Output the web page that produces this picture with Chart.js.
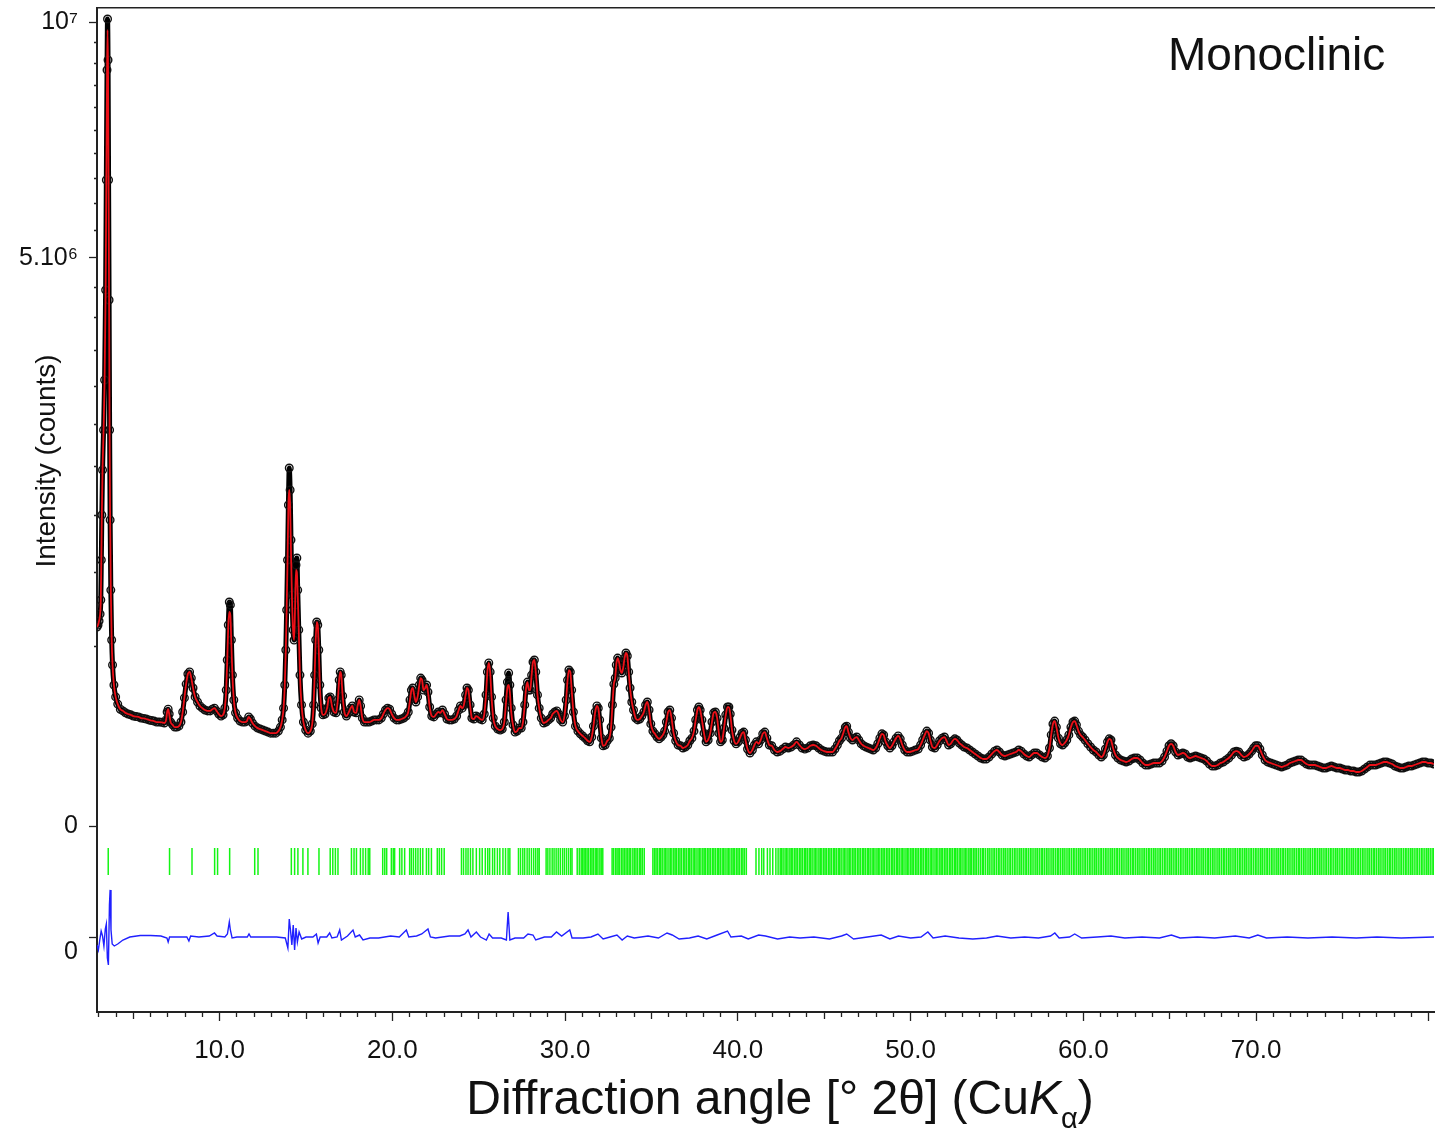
<!DOCTYPE html>
<html>
<head>
<meta charset="utf-8">
<title>Monoclinic refinement</title>
<script src="https://cdn.jsdelivr.net/npm/chart.js@4.4.1/dist/chart.umd.min.js"></script>
<style>
  body { margin: 0; background: #fff; }
  #wrap { width: 1444px; height: 1134px; }
</style>
</head>
<body>
<div id="wrap"><canvas id="xrd" width="1444" height="1134"></canvas></div>
<script>
// 2theta grid of the profile (deg)
const angles = [
  2.90, 2.96, 3.02, 3.08, 3.12, 3.15, 3.18, 3.22, 3.28, 3.34,
  3.40, 3.44, 3.48, 3.51, 3.54, 3.57, 3.60, 3.63, 3.66, 3.70,
  3.75, 3.80, 3.88, 3.98, 4.10, 4.25, 4.40, 4.55, 4.70, 4.85,
  5.00, 5.15, 5.30, 5.45, 5.60, 5.75, 5.90, 6.05, 6.20, 6.35,
  6.50, 6.65, 6.80, 6.90, 6.96, 7.02, 7.08, 7.16, 7.28, 7.40,
  7.52, 7.64, 7.76, 7.86, 7.96, 8.06, 8.16, 8.26, 8.36, 8.46,
  8.58, 8.72, 8.86, 9.00, 9.15, 9.30, 9.45, 9.58, 9.70, 9.82,
  9.95, 10.08, 10.20, 10.30, 10.38, 10.44, 10.50, 10.56, 10.62, 10.68,
  10.74, 10.82, 10.92, 11.04, 11.18, 11.32, 11.46, 11.58, 11.68, 11.78,
  11.90, 12.05, 12.20, 12.35, 12.50, 12.65, 12.80, 12.95, 13.10, 13.25,
  13.40, 13.52, 13.62, 13.70, 13.77, 13.83, 13.88, 13.93, 13.98, 14.03,
  14.08, 14.13, 14.19, 14.25, 14.31, 14.37, 14.42, 14.47, 14.52, 14.58,
  14.65, 14.74, 14.85, 14.98, 15.12, 15.25, 15.36, 15.44, 15.50, 15.56,
  15.62, 15.68, 15.74, 15.80, 15.88, 15.98, 16.10, 16.22, 16.32, 16.40,
  16.50, 16.62, 16.74, 16.84, 16.92, 16.98, 17.04, 17.12, 17.22, 17.34,
  17.46, 17.58, 17.68, 17.78, 17.90, 18.00, 18.08, 18.16, 18.26, 18.38,
  18.52, 18.66, 18.80, 18.94, 19.08, 19.22, 19.36, 19.48, 19.60, 19.72,
  19.84, 19.96, 20.10, 20.24, 20.38, 20.52, 20.66, 20.80, 20.92, 21.02,
  21.10, 21.18, 21.26, 21.36, 21.46, 21.56, 21.64, 21.72, 21.80, 21.90,
  21.98, 22.06, 22.16, 22.28, 22.40, 22.54, 22.66, 22.78, 22.90, 23.02,
  23.16, 23.30, 23.44, 23.58, 23.72, 23.84, 23.94, 24.04, 24.14, 24.24,
  24.32, 24.40, 24.50, 24.60, 24.72, 24.84, 24.96, 25.08, 25.20, 25.32,
  25.42, 25.50, 25.58, 25.66, 25.74, 25.84, 25.96, 26.10, 26.24, 26.36,
  26.48, 26.58, 26.66, 26.73, 26.80, 26.88, 26.98, 27.10, 27.22, 27.34,
  27.46, 27.56, 27.66, 27.74, 27.82, 27.90, 27.98, 28.06, 28.14, 28.22,
  28.30, 28.40, 28.50, 28.62, 28.76, 28.90, 29.04, 29.16, 29.28, 29.40,
  29.52, 29.62, 29.74, 29.86, 29.96, 30.06, 30.14, 30.22, 30.30, 30.38,
  30.48, 30.60, 30.74, 30.88, 31.02, 31.16, 31.30, 31.42, 31.54, 31.64,
  31.74, 31.84, 31.92, 32.00, 32.10, 32.20, 32.32, 32.44, 32.56, 32.66,
  32.74, 32.82, 32.90, 32.96, 33.04, 33.12, 33.20, 33.28, 33.36, 33.44,
  33.52, 33.60, 33.68, 33.76, 33.86, 33.96, 34.08, 34.20, 34.32, 34.44,
  34.56, 34.66, 34.76, 34.86, 34.96, 35.08, 35.20, 35.32, 35.44, 35.56,
  35.66, 35.76, 35.86, 35.96, 36.06, 36.16, 36.28, 36.40, 36.54, 36.68,
  36.82, 36.96, 37.10, 37.22, 37.34, 37.46, 37.56, 37.66, 37.74, 37.82,
  37.92, 38.04, 38.16, 38.28, 38.40, 38.50, 38.60, 38.70, 38.80, 38.90,
  39.00, 39.10, 39.20, 39.30, 39.40, 39.48, 39.56, 39.66, 39.78, 39.90,
  40.02, 40.14, 40.24, 40.34, 40.44, 40.56, 40.70, 40.84, 40.96, 41.08,
  41.20, 41.32, 41.44, 41.56, 41.68, 41.82, 41.96, 42.12, 42.28, 42.44,
  42.60, 42.76, 42.92, 43.08, 43.24, 43.40, 43.56, 43.72, 43.88, 44.04,
  44.20, 44.36, 44.52, 44.68, 44.84, 45.00, 45.16, 45.32, 45.48, 45.62,
  45.76, 45.88, 46.00, 46.12, 46.22, 46.30, 46.40, 46.52, 46.64, 46.76,
  46.88, 47.00, 47.14, 47.28, 47.42, 47.56, 47.70, 47.84, 47.98, 48.10,
  48.22, 48.34, 48.44, 48.56, 48.68, 48.80, 48.92, 49.04, 49.16, 49.28,
  49.40, 49.52, 49.66, 49.80, 49.96, 50.12, 50.28, 50.44, 50.58, 50.70,
  50.82, 50.94, 51.04, 51.14, 51.26, 51.40, 51.54, 51.68, 51.82, 51.96,
  52.08, 52.20, 52.32, 52.44, 52.56, 52.68, 52.82, 52.96, 53.10, 53.26,
  53.42, 53.58, 53.74, 53.90, 54.06, 54.22, 54.38, 54.54, 54.70, 54.86,
  55.00, 55.14, 55.30, 55.46, 55.62, 55.78, 55.94, 56.10, 56.26, 56.40,
  56.56, 56.72, 56.86, 57.00, 57.16, 57.30, 57.46, 57.62, 57.78, 57.92,
  58.04, 58.14, 58.24, 58.34, 58.44, 58.56, 58.68, 58.80, 58.92, 59.04,
  59.16, 59.28, 59.40, 59.50, 59.60, 59.72, 59.84, 59.96, 60.10, 60.26,
  60.42, 60.58, 60.74, 60.90, 61.04, 61.16, 61.28, 61.40, 61.50, 61.60,
  61.72, 61.86, 62.00, 62.16, 62.32, 62.48, 62.64, 62.80, 62.96, 63.12,
  63.28, 63.44, 63.60, 63.76, 63.92, 64.08, 64.24, 64.40, 64.56, 64.70,
  64.84, 64.96, 65.08, 65.20, 65.34, 65.48, 65.62, 65.76, 65.90, 66.04,
  66.18, 66.34, 66.50, 66.66, 66.82, 66.98, 67.14, 67.30, 67.46, 67.62,
  67.78, 67.94, 68.10, 68.26, 68.42, 68.58, 68.72, 68.86, 69.00, 69.14,
  69.30, 69.46, 69.60, 69.74, 69.86, 69.98, 70.10, 70.22, 70.36, 70.52,
  70.68, 70.84, 71.00, 71.16, 71.32, 71.48, 71.64, 71.80, 71.96, 72.12,
  72.28, 72.44, 72.60, 72.76, 72.92, 73.08, 73.24, 73.40, 73.56, 73.72,
  73.88, 74.04, 74.20, 74.36, 74.52, 74.68, 74.84, 75.00, 75.16, 75.32,
  75.48, 75.64, 75.80, 75.96, 76.12, 76.28, 76.44, 76.60, 76.76, 76.92,
  77.08, 77.24, 77.40, 77.56, 77.72, 77.88, 78.04, 78.20, 78.36, 78.52,
  78.68, 78.84, 79.00, 79.16, 79.32, 79.48, 79.64, 79.80, 79.96, 80.12,
  80.28
];

// observed counts
const observed = [
  616000, 628000, 654000, 699000, 794000, 1099000, 1501000, 1966000, 2432000, 3084000,
  4452000, 6464000, 8850000, 10083000, 9086000, 6464000, 4287000, 2432000, 1453000, 865000,
  538000, 404000, 310000, 260000, 232000, 213000, 207000, 200000, 196000, 193000,
  189000, 187000, 186000, 182000, 181000, 179000, 176000, 174000, 172000, 169000,
  169000, 168000, 166000, 176000, 203000, 213000, 196000, 169000, 160000, 153000,
  153000, 156000, 169000, 203000, 256000, 314000, 360000, 370000, 341000, 297000,
  260000, 240000, 225000, 217000, 210000, 207000, 207000, 213000, 217000, 207000,
  196000, 189000, 193000, 217000, 288000, 429000, 628000, 780000, 760000, 538000,
  355000, 248000, 200000, 182000, 172000, 169000, 169000, 172000, 186000, 179000,
  166000, 156000, 150000, 147000, 144000, 141000, 138000, 135000, 135000, 135000,
  141000, 153000, 176000, 217000, 310000, 482000, 725000, 1099000, 1599000, 1988000,
  1752000, 1270000, 829000, 598000, 538000, 759000, 1058000, 1115000, 865000, 598000,
  355000, 229000, 169000, 144000, 135000, 141000, 163000, 229000, 355000, 538000,
  647000, 628000, 482000, 310000, 217000, 193000, 196000, 217000, 256000, 260000,
  225000, 203000, 200000, 248000, 332000, 370000, 355000, 264000, 203000, 189000,
  200000, 217000, 225000, 203000, 200000, 229000, 248000, 225000, 182000, 169000,
  169000, 169000, 172000, 176000, 176000, 176000, 182000, 196000, 210000, 217000,
  213000, 196000, 182000, 176000, 176000, 179000, 182000, 189000, 203000, 248000,
  288000, 297000, 268000, 240000, 260000, 310000, 341000, 332000, 288000, 297000,
  310000, 280000, 221000, 189000, 186000, 196000, 203000, 200000, 210000, 196000,
  179000, 176000, 176000, 179000, 189000, 210000, 225000, 217000, 229000, 268000,
  297000, 288000, 229000, 182000, 179000, 189000, 186000, 179000, 176000, 196000,
  268000, 370000, 414000, 370000, 260000, 182000, 156000, 147000, 144000, 147000,
  169000, 248000, 323000, 365000, 310000, 217000, 160000, 138000, 141000, 150000,
  150000, 169000, 229000, 297000, 323000, 288000, 288000, 355000, 419000, 429000,
  370000, 268000, 217000, 182000, 166000, 169000, 176000, 182000, 196000, 203000,
  207000, 196000, 176000, 169000, 189000, 248000, 332000, 379000, 370000, 288000,
  203000, 156000, 141000, 133000, 127000, 121000, 114000, 111000, 124000, 156000,
  203000, 225000, 217000, 176000, 121000, 101000, 103000, 114000, 121000, 153000,
  229000, 314000, 341000, 404000, 439000, 419000, 379000, 365000, 389000, 439000,
  466000, 450000, 370000, 297000, 240000, 210000, 182000, 176000, 179000, 189000,
  203000, 229000, 240000, 210000, 163000, 141000, 133000, 124000, 119000, 124000,
  130000, 141000, 169000, 203000, 210000, 182000, 135000, 114000, 103000, 101000,
  95500, 98000, 103000, 114000, 121000, 141000, 176000, 210000, 221000, 210000,
  176000, 135000, 111000, 116000, 135000, 169000, 200000, 203000, 182000, 135000,
  111000, 116000, 150000, 193000, 221000, 221000, 196000, 144000, 114000, 106000,
  111000, 124000, 135000, 138000, 116000, 93000, 83700, 90700, 103000, 111000,
  106000, 116000, 133000, 138000, 121000, 103000, 101000, 90700, 86000, 88000,
  93000, 98000, 95500, 98000, 103000, 111000, 103000, 95500, 93000, 95500,
  101000, 103000, 101000, 95500, 90700, 88000, 86000, 86000, 86000, 93000,
  103000, 114000, 121000, 138000, 153000, 156000, 138000, 121000, 116000, 121000,
  124000, 116000, 106000, 101000, 98000, 95500, 93000, 90700, 95500, 106000,
  121000, 133000, 130000, 111000, 101000, 95500, 101000, 111000, 121000, 127000,
  119000, 103000, 90700, 86000, 86000, 88000, 90700, 93000, 103000, 116000,
  130000, 141000, 135000, 116000, 98000, 95500, 103000, 114000, 121000, 124000,
  114000, 103000, 106000, 114000, 119000, 116000, 108000, 103000, 98000, 95500,
  90700, 86000, 81500, 77100, 72800, 70700, 70700, 74900, 81500, 88000,
  90700, 86000, 79300, 77100, 79300, 81500, 83700, 86000, 90700, 88000,
  81500, 77100, 74900, 79300, 83700, 83700, 79300, 74900, 72800, 77100,
  95500, 130000, 163000, 172000, 153000, 121000, 106000, 103000, 108000, 116000,
  130000, 153000, 169000, 172000, 160000, 141000, 130000, 124000, 116000, 106000,
  98000, 90700, 86000, 79300, 74900, 79300, 93000, 111000, 119000, 116000,
  95500, 79300, 72800, 68600, 66500, 64500, 66500, 70700, 72800, 72800,
  68600, 62500, 58700, 58700, 60600, 62500, 62500, 62500, 66500, 74900,
  88000, 101000, 106000, 101000, 86000, 79300, 81500, 83700, 81500, 74900,
  72800, 74900, 77100, 74900, 72800, 70700, 66500, 60600, 56800, 56800,
  58700, 62500, 64500, 68600, 72800, 79300, 86000, 88000, 86000, 79300,
  74900, 77100, 81500, 88000, 95500, 101000, 101000, 93000, 79300, 68600,
  64500, 62500, 60600, 58700, 56800, 54900, 56800, 58700, 62500, 64500,
  66500, 68600, 68600, 64500, 60600, 58700, 58700, 58700, 56800, 54900,
  53100, 53100, 54900, 56800, 54900, 53100, 53100, 51300, 49500, 49500,
  47800, 47800, 46100, 46100, 47800, 51300, 54900, 58700, 58700, 58700,
  60600, 62500, 64500, 64500, 62500, 60600, 56800, 54900, 53100, 53100,
  54900, 56800, 56800, 58700, 60600, 62500, 64500, 64500, 62500, 62500,
  60600
];

// calculated profile
const calculated = [
  616000, 628000, 654000, 699000, 794000, 1099000, 1501000, 1966000, 2432000, 3084000,
  4452000, 6464000, 8618000, 9811000, 8803000, 6300000, 4287000, 2432000, 1453000, 865000,
  538000, 404000, 310000, 260000, 232000, 213000, 207000, 200000, 196000, 193000,
  189000, 187000, 186000, 182000, 181000, 179000, 176000, 174000, 172000, 169000,
  169000, 168000, 166000, 176000, 203000, 213000, 196000, 169000, 160000, 153000,
  153000, 156000, 169000, 203000, 256000, 314000, 360000, 370000, 341000, 297000,
  260000, 240000, 225000, 217000, 210000, 207000, 207000, 213000, 217000, 207000,
  196000, 189000, 193000, 217000, 288000, 429000, 628000, 712000, 692000, 510000,
  355000, 248000, 200000, 182000, 172000, 169000, 169000, 172000, 186000, 179000,
  166000, 156000, 150000, 147000, 144000, 141000, 138000, 135000, 135000, 135000,
  141000, 153000, 176000, 217000, 310000, 482000, 725000, 1099000, 1599000, 1752000,
  1599000, 1183000, 794000, 598000, 538000, 759000, 1018000, 1002000, 830000, 598000,
  355000, 229000, 169000, 144000, 135000, 141000, 163000, 229000, 355000, 538000,
  647000, 628000, 482000, 310000, 217000, 193000, 196000, 217000, 256000, 260000,
  225000, 203000, 200000, 248000, 332000, 370000, 355000, 264000, 203000, 189000,
  200000, 217000, 225000, 203000, 200000, 229000, 248000, 225000, 182000, 169000,
  169000, 169000, 172000, 176000, 176000, 176000, 182000, 196000, 210000, 217000,
  213000, 196000, 182000, 176000, 176000, 179000, 182000, 189000, 203000, 248000,
  288000, 297000, 268000, 240000, 260000, 310000, 341000, 332000, 288000, 297000,
  310000, 280000, 221000, 189000, 186000, 196000, 203000, 200000, 210000, 196000,
  179000, 176000, 176000, 179000, 189000, 210000, 225000, 217000, 229000, 268000,
  297000, 288000, 229000, 182000, 179000, 189000, 186000, 179000, 176000, 196000,
  268000, 370000, 414000, 370000, 260000, 182000, 156000, 147000, 144000, 147000,
  169000, 240000, 300000, 310000, 280000, 203000, 160000, 138000, 141000, 150000,
  150000, 169000, 229000, 297000, 323000, 288000, 288000, 355000, 419000, 429000,
  370000, 268000, 217000, 182000, 166000, 169000, 176000, 182000, 196000, 203000,
  207000, 196000, 176000, 169000, 189000, 248000, 332000, 379000, 370000, 288000,
  203000, 156000, 141000, 133000, 127000, 121000, 114000, 111000, 124000, 156000,
  203000, 225000, 217000, 176000, 121000, 101000, 103000, 114000, 121000, 153000,
  229000, 314000, 341000, 404000, 439000, 419000, 379000, 365000, 389000, 439000,
  466000, 450000, 370000, 297000, 240000, 210000, 182000, 176000, 179000, 189000,
  203000, 229000, 240000, 210000, 163000, 141000, 133000, 124000, 119000, 124000,
  130000, 141000, 169000, 203000, 210000, 182000, 135000, 114000, 103000, 101000,
  95500, 98000, 103000, 114000, 121000, 141000, 176000, 210000, 221000, 210000,
  176000, 135000, 111000, 116000, 135000, 169000, 200000, 203000, 182000, 135000,
  111000, 116000, 150000, 193000, 221000, 221000, 196000, 144000, 114000, 106000,
  111000, 124000, 135000, 138000, 116000, 93000, 83700, 90700, 103000, 111000,
  106000, 116000, 133000, 138000, 121000, 103000, 101000, 90700, 86000, 88000,
  93000, 98000, 95500, 98000, 103000, 111000, 103000, 95500, 93000, 95500,
  101000, 103000, 101000, 95500, 90700, 88000, 86000, 86000, 86000, 93000,
  103000, 114000, 121000, 138000, 153000, 156000, 138000, 121000, 116000, 121000,
  124000, 116000, 106000, 101000, 98000, 95500, 93000, 90700, 95500, 106000,
  121000, 133000, 130000, 111000, 101000, 95500, 101000, 111000, 121000, 127000,
  119000, 103000, 90700, 86000, 86000, 88000, 90700, 93000, 103000, 116000,
  130000, 141000, 135000, 116000, 98000, 95500, 103000, 114000, 121000, 124000,
  114000, 103000, 106000, 114000, 119000, 116000, 108000, 103000, 98000, 95500,
  90700, 86000, 81500, 77100, 72800, 70700, 70700, 74900, 81500, 88000,
  90700, 86000, 79300, 77100, 79300, 81500, 83700, 86000, 90700, 88000,
  81500, 77100, 74900, 79300, 83700, 83700, 79300, 74900, 72800, 77100,
  95500, 130000, 163000, 172000, 153000, 121000, 106000, 103000, 108000, 116000,
  130000, 153000, 169000, 172000, 160000, 141000, 130000, 124000, 116000, 106000,
  98000, 90700, 86000, 79300, 74900, 79300, 93000, 111000, 119000, 116000,
  95500, 79300, 72800, 68600, 66500, 64500, 66500, 70700, 72800, 72800,
  68600, 62500, 58700, 58700, 60600, 62500, 62500, 62500, 66500, 74900,
  88000, 101000, 106000, 101000, 86000, 79300, 81500, 83700, 81500, 74900,
  72800, 74900, 77100, 74900, 72800, 70700, 66500, 60600, 56800, 56800,
  58700, 62500, 64500, 68600, 72800, 79300, 86000, 88000, 86000, 79300,
  74900, 77100, 81500, 88000, 95500, 101000, 101000, 93000, 79300, 68600,
  64500, 62500, 60600, 58700, 56800, 54900, 56800, 58700, 62500, 64500,
  66500, 68600, 68600, 64500, 60600, 58700, 58700, 58700, 56800, 54900,
  53100, 53100, 54900, 56800, 54900, 53100, 53100, 51300, 49500, 49500,
  47800, 47800, 46100, 46100, 47800, 51300, 54900, 58700, 58700, 58700,
  60600, 62500, 64500, 64500, 62500, 60600, 56800, 54900, 53100, 53100,
  54900, 56800, 56800, 58700, 60600, 62500, 64500, 64500, 62500, 62500,
  60600
];

// difference curve (obs - calc), own grid
const diffAngles = [
  2.90, 2.98, 3.06, 3.14, 3.22, 3.30, 3.38, 3.44, 3.50, 3.56,
  3.62, 3.66, 3.71, 3.78, 3.90, 4.10, 4.40, 4.80, 5.40, 6.00,
  6.60, 6.95, 7.02, 7.10, 7.60, 8.10, 8.22, 8.32, 8.80, 9.40,
  9.70, 9.85, 10.30, 10.45, 10.56, 10.62, 10.72, 11.00, 11.60, 11.70,
  11.80, 12.50, 13.30, 13.80, 13.95, 14.03, 14.10, 14.18, 14.26, 14.34,
  14.42, 14.50, 14.60, 14.75, 15.00, 15.40, 15.60, 15.70, 15.82, 16.20,
  16.37, 16.50, 16.80, 16.95, 17.05, 17.40, 17.72, 17.85, 18.10, 18.30,
  18.70, 19.20, 19.90, 20.40, 20.81, 20.95, 21.40, 21.70, 22.06, 22.20,
  22.50, 23.30, 23.90, 24.20, 24.38, 24.55, 24.86, 25.10, 25.44, 25.60,
  25.80, 26.30, 26.60, 26.70, 26.80, 27.10, 27.60, 27.85, 28.14, 28.30,
  28.80, 29.20, 29.50, 29.80, 30.27, 30.40, 31.04, 31.50, 31.90, 32.20,
  32.60, 33.00, 33.30, 33.60, 34.00, 34.80, 35.40, 35.90, 36.20, 36.60,
  37.20, 37.70, 38.20, 38.80, 39.40, 39.60, 40.20, 40.60, 41.20, 41.60,
  42.30, 43.00, 43.60, 44.40, 45.30, 46.00, 46.30, 46.70, 47.50, 48.30,
  48.80, 49.30, 50.00, 50.60, 51.00, 51.30, 52.00, 52.80, 53.60, 54.40,
  55.00, 55.80, 56.60, 57.40, 58.10, 58.35, 58.60, 59.20, 59.50, 59.90,
  60.80, 61.60, 62.40, 63.40, 64.40, 65.10, 65.60, 66.60, 67.60, 68.80,
  69.60, 70.10, 70.60, 71.80, 73.00, 74.40, 75.80, 77.00, 78.40, 80.30
];
const difference = [
  -73000, -123000, -23000, 67000, 17000, -83000, 87000, 137000, -203000, -273000,
  328000, 478000, 78000, -63000, -83000, -63000, -23000, 7000, 22000, 22000,
  17000, -3000, -43000, 7000, 7000, 7000, -33000, 17000, 7000, 17000,
  47000, 17000, 7000, 37000, 157000, 77000, -3000, 7000, 7000, 37000,
  7000, 7000, 7000, -3000, -103000, 187000, 77000, -73000, 127000, -123000,
  97000, -43000, 57000, -13000, 7000, 7000, 37000, -53000, 7000, 7000,
  47000, -3000, 7000, 77000, -23000, 17000, 77000, 7000, 27000, -23000,
  -3000, -3000, 17000, 7000, 77000, 7000, 17000, 37000, 87000, 7000,
  -3000, 17000, 17000, 37000, 77000, 7000, 57000, 7000, -23000, 37000,
  -3000, -3000, -23000, 257000, -23000, -3000, -3000, 37000, 27000, -23000,
  7000, 7000, 57000, 17000, 77000, -3000, -3000, 7000, 37000, -13000,
  7000, 27000, -23000, 17000, -3000, 17000, -3000, 47000, 27000, -13000,
  -3000, 17000, -13000, 27000, 67000, 7000, 17000, -13000, 27000, 17000,
  -13000, 7000, -3000, 7000, -13000, 17000, 37000, -13000, 7000, 27000,
  -13000, 17000, -3000, 7000, 57000, -3000, 17000, -3000, -13000, -3000,
  17000, -3000, 7000, -3000, 17000, 47000, -3000, 7000, 37000, -3000,
  7000, 17000, -3000, 7000, -3000, 27000, -3000, 7000, -3000, 17000,
  -3000, 27000, -3000, 7000, -3000, 7000, -3000, 7000, -3000, 7000
];

// Bragg reflection positions (deg)
const reflections = [
  3.55, 7.10, 8.40, 9.71, 9.88, 10.58, 12.03, 12.22, 14.15, 14.34, 14.53, 14.82, 15.11, 15.75,
  16.40, 16.55, 16.70, 16.85, 17.63, 17.78, 17.92, 18.15, 18.30, 18.45, 18.60, 18.69,
  19.44, 19.56, 19.67, 19.94, 20.05, 20.13, 20.42, 20.55, 20.71,
  21.00, 21.10, 21.22, 21.35, 21.48, 21.62, 21.76, 21.97, 22.10, 22.26,
  22.60, 22.72, 22.85, 23.00, 24.00, 24.12, 24.26, 24.38, 24.52, 24.66, 24.86,
  25.05, 25.20, 25.38, 25.52, 25.63, 25.80, 25.92, 26.08, 26.22, 26.40, 26.55, 26.70, 26.80,
  27.30, 27.42, 27.55, 27.66, 27.80, 27.92, 28.05, 28.18, 28.30, 28.42, 28.50,
  28.90, 29.00, 29.12, 29.25, 29.36, 29.48, 29.60, 29.72, 29.85, 29.96, 30.08, 30.20, 30.32, 30.40,
  30.70, 30.82, 30.93, 31.02, 31.10, 31.18, 31.27, 31.35, 31.46, 31.55, 31.63, 31.74, 31.82, 31.90,
  32.01, 32.09, 32.18, 32.72, 32.80, 32.91, 33.00, 33.07, 33.16, 33.27, 33.35, 33.44, 33.53, 33.62,
  33.71, 33.80, 33.92, 34.01, 34.10, 34.19, 34.30, 34.38, 34.47, 34.58,
  35.08, 35.17, 35.26, 35.34, 35.45, 35.53, 35.62, 35.73, 35.81, 35.90, 36.01, 36.10, 36.18, 36.29,
  36.37, 36.46, 36.57, 36.65, 36.74, 36.85, 36.93, 37.02, 37.13, 37.21, 37.30, 37.41, 37.49, 37.58,
  37.69, 37.77, 37.86, 37.97, 38.05, 38.14, 38.25, 38.33, 38.42, 38.53, 38.61, 38.70, 38.81, 38.89,
  38.98, 39.09, 39.17, 39.26, 39.37, 39.45, 39.54, 39.65, 39.73, 39.82, 39.93, 40.01, 40.10, 40.21,
  40.29, 40.38, 40.49, 41.05, 41.22, 41.38, 41.50, 41.71, 41.86, 42.02, 42.20, 42.33,
  42.45, 42.53, 42.62, 42.73, 42.81, 42.90, 43.01, 43.09, 43.18, 43.29, 43.37, 43.46, 43.57, 43.65,
  43.74, 43.85, 43.93, 44.02, 44.13, 44.21, 44.30, 44.41, 44.49, 44.58, 44.69, 44.77, 44.86, 44.97,
  45.05, 45.14, 45.25, 45.33, 45.42, 45.53, 45.61, 45.70, 45.81, 45.89, 45.98, 46.09, 46.17, 46.26,
  46.37, 46.45, 46.54, 46.65, 46.73, 46.82, 46.93, 47.01, 47.10, 47.21, 47.29, 47.38, 47.49, 47.57,
  47.66, 47.77, 47.85, 47.94, 48.05, 48.13, 48.22, 48.33, 48.41, 48.50, 48.61, 48.69, 48.78, 48.89,
  48.97, 49.06, 49.17, 49.25, 49.34, 49.45, 49.53, 49.62, 49.73, 49.81, 49.90, 50.01, 50.09, 50.18,
  50.29, 50.37, 50.46, 50.57, 50.65, 50.74, 50.85, 50.93, 51.02, 51.13, 51.21, 51.30, 51.41, 51.49,
  51.58, 51.69, 51.77, 51.86, 51.97, 52.05, 52.14, 52.25, 52.33, 52.42, 52.53, 52.61, 52.70, 52.81,
  52.89, 52.98, 53.09, 53.17, 53.26, 53.37, 53.45, 53.54, 53.65, 53.73, 53.82, 53.93,
  54.04, 54.15, 54.23, 54.34, 54.46, 54.55, 54.66, 54.77, 54.86, 54.97, 55.08, 55.17, 55.28, 55.39,
  55.48, 55.59, 55.70, 55.79, 55.90, 56.01, 56.10, 56.21, 56.32, 56.41, 56.52, 56.63, 56.72, 56.83,
  56.94, 57.03, 57.14, 57.25, 57.34, 57.45, 57.56, 57.65, 57.76, 57.87, 57.96, 58.07, 58.18, 58.27,
  58.38, 58.49, 58.58, 58.69, 58.80, 58.89, 59.00, 59.11, 59.20, 59.31, 59.42, 59.51, 59.62, 59.73,
  59.82, 59.93, 60.04, 60.13, 60.24, 60.35, 60.44, 60.55, 60.66, 60.75, 60.86, 60.97, 61.06, 61.17,
  61.28, 61.37, 61.48, 61.59, 61.68, 61.79, 61.90, 61.99, 62.10, 62.21, 62.30, 62.41, 62.52, 62.61,
  62.72, 62.83, 62.92, 63.03, 63.14, 63.23, 63.34, 63.45, 63.54, 63.65, 63.76, 63.85, 63.96, 64.07,
  64.16, 64.27, 64.38, 64.47, 64.58, 64.69, 64.78, 64.89, 65.00, 65.09, 65.20, 65.31, 65.40, 65.51,
  65.62, 65.71, 65.82, 65.93, 66.02, 66.13, 66.24, 66.33, 66.44, 66.55, 66.64, 66.75, 66.86, 66.95,
  67.06, 67.17, 67.26, 67.37, 67.48, 67.57, 67.68, 67.79, 67.88, 67.99, 68.10, 68.19, 68.30, 68.41,
  68.50, 68.61, 68.72, 68.81, 68.92, 69.03, 69.12, 69.23, 69.34, 69.43, 69.54, 69.65, 69.74, 69.85,
  69.96, 70.05, 70.16, 70.27, 70.36, 70.47, 70.58, 70.67, 70.78, 70.89, 70.98, 71.09, 71.20, 71.29,
  71.40, 71.51, 71.60, 71.71, 71.82, 71.91, 72.02, 72.13, 72.22, 72.33, 72.44, 72.53, 72.64, 72.75,
  72.84, 72.95, 73.06, 73.15, 73.26, 73.37, 73.46, 73.57, 73.68, 73.77, 73.88, 73.99, 74.08, 74.19,
  74.30, 74.39, 74.50, 74.61, 74.70, 74.81, 74.92, 75.01, 75.12, 75.23, 75.32, 75.43, 75.54, 75.63,
  75.74, 75.85, 75.94, 76.05, 76.16, 76.25, 76.36, 76.47, 76.56, 76.67, 76.78, 76.87, 76.98, 77.09,
  77.18, 77.29, 77.40, 77.49, 77.60, 77.71, 77.80, 77.91, 78.02, 78.11, 78.22, 78.33, 78.42, 78.53,
  78.64, 78.73, 78.84, 78.95, 79.04, 79.15, 79.26, 79.35, 79.46, 79.57, 79.66, 79.77, 79.88, 79.97,
  80.08, 80.19, 80.28
];

// ticks / labels
const intensityTickValues = [
  0, 500000, 1000000, 1500000, 2000000, 2500000, 3000000, 3500000, 4000000, 4500000,
  5000000, 5500000, 6000000, 6500000, 7000000, 7500000, 8000000, 8500000, 9000000, 9500000,
  10000000
];
const intensityTicks = [0, 5000000, 10000000];
const intensityTickLabels = ['0', '5.10\u2076', '10\u2077'];
const differenceTicks = [0];
const angleTicks = [10, 20, 30, 40, 50, 60, 70];
const angleTickLabels = ['10.0', '20.0', '30.0', '40.0', '50.0', '60.0', '70.0'];
const reflectionLevel = 762000;
const panelLabel = 'Monoclinic';
const yTitle = 'Intensity (counts)';

// square-root intensity axis
class SqrtScale extends Chart.LinearScale {
  getPixelForValue(value) {
    if (value === null || isNaN(value)) return NaN;
    const lo = Math.sqrt(Math.max(this.min, 0));
    const hi = Math.sqrt(this.max);
    return this.getPixelForDecimal((Math.sqrt(Math.max(value, 0)) - lo) / (hi - lo));
  }
  getValueForPixel(pixel) {
    const lo = Math.sqrt(Math.max(this.min, 0));
    const hi = Math.sqrt(this.max);
    const s = lo + this.getDecimalForPixel(pixel) * (hi - lo);
    return s * s;
  }
}
SqrtScale.id = 'sqrt';
SqrtScale.defaults = {};
Chart.register(SqrtScale);

const FONT = '"Liberation Sans", Arial, Helvetica, sans-serif';
Chart.defaults.font.family = FONT;
Chart.defaults.color = '#111';

function majorIndex(list, v) {
  return list.findIndex(t => Math.abs(t - v) < 1e-6 * Math.max(1, Math.abs(t)));
}

const annotate = {
  id: 'annotate',
  afterDraw(chart) {
    const ctx = chart.ctx;
    ctx.save();
    ctx.fillStyle = '#111';
    ctx.textBaseline = 'alphabetic';

    ctx.font = '46px ' + FONT;
    ctx.textAlign = 'left';
    ctx.fillText(panelLabel, 1168, 70);

    ctx.save();
    ctx.translate(47, 461);
    ctx.rotate(-Math.PI / 2);
    ctx.font = '28px ' + FONT;
    ctx.textAlign = 'center';
    ctx.textBaseline = 'middle';
    ctx.fillText(yTitle, 0, 0);
    ctx.restore();

    // x title with italic K and subscript alpha
    const parts = [
      {t: 'Diffraction angle [\u00b0 2\u03b8] (Cu', f: '48px ' + FONT, dy: 0},
      {t: 'K', f: 'italic 48px ' + FONT, dy: 0},
      {t: '\u03b1', f: '29px ' + FONT, dy: 14},
      {t: ')', f: '48px ' + FONT, dy: 0}
    ];
    let total = 0;
    parts.forEach(p => { ctx.font = p.f; p.w = ctx.measureText(p.t).width; total += p.w; });
    let x = 780 - total / 2;
    ctx.textAlign = 'left';
    parts.forEach(p => { ctx.font = p.f; ctx.fillText(p.t, x, 1114 + p.dy); x += p.w; });
    ctx.restore();
  }
};

const axisColor = '#222';

new Chart(document.getElementById('xrd'), {
  type: 'line',
  data: {
    datasets: [
      {
        label: 'Calculated',
        data: angles.map((a, i) => ({x: a, y: calculated[i]})),
        yAxisID: 'y',
        borderColor: '#ec1018',
        borderWidth: 1.8,
        pointRadius: 0,
        cubicInterpolationMode: 'monotone',
        order: 0
      },
      {
        label: 'Observed',
        data: angles.map((a, i) => ({x: a, y: observed[i]})),
        yAxisID: 'y',
        borderColor: '#000',
        borderWidth: 5,
        pointStyle: 'circle',
        pointRadius: 3.8,
        pointBorderWidth: 1.4,
        pointBorderColor: '#111',
        pointBackgroundColor: 'rgba(255,255,255,0)',
        cubicInterpolationMode: 'monotone',
        order: 1
      },
      {
        label: 'Difference',
        data: diffAngles.map((a, i) => ({x: a, y: difference[i]})),
        yAxisID: 'yDiff',
        borderColor: '#2020ff',
        borderWidth: 1.4,
        pointRadius: 0,
        order: 2
      },
      {
        label: 'Reflections',
        data: reflections.map(a => ({x: a, y: reflectionLevel})),
        yAxisID: 'yDiff',
        showLine: false,
        pointStyle: 'line',
        rotation: 90,
        pointRadius: 13.5,
        pointBorderWidth: 1.5,
        pointBorderColor: 'rgb(20,245,20)',
        order: 3
      }
    ]
  },
  options: {
    responsive: false,
    devicePixelRatio: 1,
    animation: false,
    events: [],
    layout: { autoPadding: false, padding: { left: 0, right: 10, top: 0, bottom: 0 } },
    plugins: {
      legend: { display: false },
      tooltip: { enabled: false }
    },
    scales: {
      x: {
        type: 'linear',
        position: 'bottom',
        min: 2.9,
        max: 80.3,
        afterFit: s => { s.height = 122; s.paddingLeft = 0; s.paddingRight = 0; },
        border: { color: axisColor, width: 2 },
        grid: {
          drawOnChartArea: false,
          tickLength: 9,
          tickColor: axisColor,
          tickWidth: 1.3,
          tickBorderDash: c => {
            const v = c.tick ? Math.round(c.tick.value) : 0;
            if (v % 10 === 0) return [];
            if (v % 5 === 0) return [6, 30];
            return [4, 30];
          }
        },
        ticks: {
          stepSize: 1,
          autoSkip: false,
          includeBounds: false,
          maxRotation: 0,
          padding: 14,
          font: { size: 26 },
          callback: v => {
            const i = majorIndex(angleTicks, v);
            return i >= 0 ? angleTickLabels[i] : '';
          }
        }
      },
      xTop: {
        type: 'linear',
        position: 'top',
        min: 2.9,
        max: 80.3,
        afterFit: s => { s.height = 8; },
        ticks: { display: false },
        grid: { display: false },
        border: { color: axisColor, width: 1.5 }
      },
      yDiff: {
        type: 'linear',
        position: 'left',
        stack: 'frame',
        stackWeight: 185.4,
        min: -743000,
        max: 1111000,
        afterFit: s => { s.width = 97; s.paddingTop = 0; s.paddingBottom = 0; },
        afterBuildTicks: s => { s.ticks = differenceTicks.map(v => ({value: v})); },
        border: { color: axisColor, width: 2 },
        grid: { drawOnChartArea: false, tickLength: 8, tickColor: axisColor, tickWidth: 1.3 },
        ticks: { padding: 11, labelOffset: 14, font: { size: 25 }, callback: v => String(v) }
      },
      y: {
        type: 'sqrt',
        position: 'left',
        stack: 'frame',
        stackWeight: 818.6,
        min: 0,
        max: 10360000,
        afterFit: s => { s.width = 97; s.paddingTop = 0; s.paddingBottom = 0; },
        afterBuildTicks: s => { s.ticks = intensityTickValues.map(v => ({value: v})); },
        border: { color: axisColor, width: 2 },
        grid: {
          drawOnChartArea: false,
          tickLength: 8,
          tickColor: axisColor,
          tickWidth: 1.3,
          tickBorderDash: c => (c.tick && majorIndex(intensityTicks, c.tick.value) >= 0) ? [] : [0, 5, 3, 30]
        },
        ticks: {
          autoSkip: false,
          padding: 11,
          font: { size: 25 },
          callback: v => {
            const i = majorIndex(intensityTicks, v);
            return i >= 0 ? intensityTickLabels[i] : '';
          }
        }
      }
    }
  },
  plugins: [annotate]
});
</script>
</body>
</html>
